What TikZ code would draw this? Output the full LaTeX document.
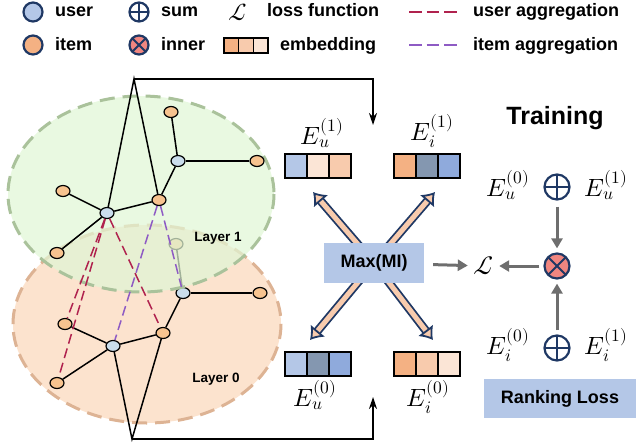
\documentclass[tikz,border=0pt]{standalone}
\usepackage{unicode-math}
\setmainfont{Liberation Sans}
\setmathfont{Latin Modern Math}
\usetikzlibrary{positioning,shapes.geometric,arrows.meta}

\definecolor{navy}{HTML}{1F3864}
\definecolor{legu}{HTML}{B4C7E7}
\definecolor{legi}{HTML}{F4B183}
\definecolor{ufill}{HTML}{CADDEC}
\definecolor{ifill}{HTML}{F7C38F}
\definecolor{salmon}{HTML}{F08680}
\definecolor{garrow}{HTML}{6E6E6E}
\definecolor{greenbg}{HTML}{E0F6D5}
\definecolor{greenln}{HTML}{AAC29B}
\definecolor{orangebg}{HTML}{FCE3CE}
\definecolor{orangeln}{HTML}{DDB394}
\definecolor{uagg}{HTML}{B0224E}
\definecolor{iagg}{HTML}{8E5BC4}
\definecolor{lblue}{HTML}{B4C7E7}
\definecolor{lpeach}{HTML}{FBE5D6}
\definecolor{peach}{HTML}{F8CBAD}
\definecolor{dorange}{HTML}{F4B183}
\definecolor{gblue}{HTML}{8497B0}
\definecolor{mblue}{HTML}{8FAADC}

\begin{document}
\begin{tikzpicture}[x=1pt, y=-1pt,
  user/.style={ellipse, draw, line width=1.2pt, fill=ufill, minimum width=14pt, minimum height=11pt, inner sep=0pt},
  item/.style={user, fill=ifill},
  legdot/.style={circle, draw=navy, line width=2.2pt, minimum size=19pt, inner sep=0pt},
  plus/.style={legdot, fill=white, path picture={\draw[navy, line width=2pt] (path picture bounding box.north) -- (path picture bounding box.south) (path picture bounding box.west) -- (path picture bounding box.east);}},
  times/.style={legdot, fill=salmon, path picture={\draw[navy, line width=2pt] (path picture bounding box.north west) -- (path picture bounding box.south east) (path picture bounding box.north east) -- (path picture bounding box.south west);}},
  legtext/.style={anchor=base west, inner sep=0pt, font=\fontsize{18}{20}\selectfont\bfseries},
  cell/.style={draw, line width=2pt, minimum width=22pt, minimum height=24pt, inner sep=0pt, outer sep=0pt},
  legcell/.style={cell, line width=1.6pt, minimum width=14.7pt, minimum height=15pt},
  emb/.style={font=\fontsize{25}{28}\selectfont, inner sep=0pt},
  box/.style={fill=lblue, inner sep=0pt, font=\fontsize{18}{20}\selectfont\bfseries},
  edge/.style={line width=1.5pt},
  feed/.style={line width=1.5pt, -{Stealth[length=12pt, width=8pt]}},
  agg/.style={line width=1.5pt, dash pattern=on 10pt off 5pt},
  gray/.style={draw=garrow, line width=3pt, -{Triangle[length=10pt, width=11pt]}},
  mi/.style={draw=navy, line width=1.8pt, double=peach, double distance=5pt, -{Latex[open, fill=peach, length=12pt, width=19pt]}}
]
\useasboundingbox (0,0) rectangle (636,444);

% legend
\node[legdot, fill=legu] (lu) at (33,12) {};
\node[legtext] at (55,17) {user};
\node[legdot, fill=legi] (li) at (33,45) {};
\node[legtext] at (55,51) {item};
\node[plus] (lsum) at (139,12) {};
\node[legtext] at (161,17) {sum};
\node[times] (linner) at (139,45) {};
\node[legtext] at (161,51) {inner};
\node[font=\fontsize{24}{26}\selectfont, inner sep=0pt] (lloss) at (238,12) {$\mathcal{L}$};
\node[legtext] at (267,17) {loss function};
\node[legcell, fill=dorange] (lc1) at (231.3,45.5) {};
\node[legcell, fill=peach, right=0pt of lc1] (lc2) {};
\node[legcell, fill=lpeach, right=0pt of lc2] (lc3) {};
\node[legtext] at (280,51) {embedding};
\coordinate (ua) at (409,12);
\coordinate (ub) at (458,12);
\draw[agg, draw=uagg, dash pattern=on 12.5pt off 5pt] (ua) -- (ub);
\node[legtext] at (473,17) {user aggregation};
\coordinate (ia) at (409,45);
\coordinate (ib) at (458,45);
\draw[agg, draw=iagg, dash pattern=on 12.5pt off 5pt] (ia) -- (ib);
\node[legtext] at (473,51) {item aggregation};

% layer 0
\draw[fill=orangebg, draw=orangeln, line width=3pt, dash pattern=on 15pt off 8pt] (147,324) ellipse [x radius=134, y radius=99];
\node[user] (u3) at (113,346) {};
\node[item] (i3a) at (65,324) {};
\node[item] (i3b) at (57,383) {};
\node[item] (i3c) at (163,333) {};
\node[user] (u4) at (183,293) {};
\node[item] (i4a) at (260,293) {};
\node[item] (i4b) at (176,244) {};
\draw[edge] (u3) -- (i3a);
\draw[edge] (u3) -- (i3b);
\draw[edge] (u3) -- (i3c);
\draw[edge] (i3c) -- (u4);
\draw[edge] (u4) -- (i4a);
\draw[edge] (u4) -- (i4b);
\coordinate (bot0) at (132,439);
\coordinate (in0) at (373,397);
\draw[edge] (u3) -- (bot0) -- (i3c);
\draw[feed] (bot0) -| (in0);
\node[font=\fontsize{13.5}{15}\selectfont\bfseries] (lay0) at (216,379) {Layer 0};

% layer 1
\draw[fill=greenbg, fill opacity=0.72, draw=greenln, line width=3pt, dash pattern=on 15pt off 8pt] (141,194) ellipse [x radius=133, y radius=98];
\node[user] (u1) at (107,213) {};
\node[item] (i1a) at (159,200) {};
\node[item] (i1b) at (63,191) {};
\node[item] (i1c) at (57,253) {};
\node[user] (u2) at (178,161) {};
\node[item] (i2a) at (171,112) {};
\node[item] (i2b) at (257,161) {};
\draw[edge] (u1) -- (i1a);
\draw[edge] (u1) -- (i1b);
\draw[edge] (u1) -- (i1c);
\draw[edge] (i1a) -- (u2);
\draw[edge] (u2) -- (i2a);
\draw[edge] (u2) -- (i2b);
\coordinate (top1) at (134,79);
\coordinate (in1) at (373,125);
\draw[edge] (u1) -- (top1) -- (i1a);
\draw[feed] (top1) -| (in1);
\node[font=\fontsize{13.5}{15}\selectfont\bfseries] (lay1) at (218,238) {Layer 1};

% aggregation
\draw[agg, draw=uagg] (u1) -- (i3a);
\draw[agg, draw=uagg] (u1) -- (i3b);
\draw[agg, draw=uagg] (u1) -- (i3c);
\draw[agg, draw=iagg] (i1a) -- (u3);
\draw[agg, draw=iagg] (i1a) -- (u4);

% embeddings
\node[cell, fill=lblue] (eu1a) at (296,166) {};
\node[cell, fill=lpeach, right=0pt of eu1a] (eu1b) {};
\node[cell, fill=peach, right=0pt of eu1b] (eu1c) {};
\node[cell, fill=dorange] (ei1a) at (405,166) {};
\node[cell, fill=gblue, right=0pt of ei1a] (ei1b) {};
\node[cell, fill=mblue, right=0pt of ei1b] (ei1c) {};
\node[cell, fill=lblue] (eu0a) at (296,363.5) {};
\node[cell, fill=gblue, right=0pt of eu0a] (eu0b) {};
\node[cell, fill=mblue, right=0pt of eu0b] (eu0c) {};
\node[cell, fill=dorange] (ei0a) at (405,363.5) {};
\node[cell, fill=peach, right=0pt of ei0a] (ei0b) {};
\node[cell, fill=lpeach, right=0pt of ei0b] (ei0c) {};
\node[emb, above=6pt of eu1b, xshift=4pt] (leu1) {$E_u^{(1)}$};
\node[emb, above=6pt of ei1b, xshift=5pt] (lei1) {$E_i^{(1)}$};
\node[emb, below=5pt of eu0b, xshift=-3pt] (leu0) {$E_u^{(0)}$};
\node[emb, below=5pt of ei0b, xshift=1pt] (lei0) {$E_i^{(0)}$};

% max MI
\coordinate (mic) at (374,263);
\coordinate (tu1) at (313,192);
\coordinate (ti1) at (435,192);
\coordinate (tu0) at (310,340);
\coordinate (ti0) at (433,340);
\draw[mi] (mic) -- (tu1);
\draw[mi] (mic) -- (ti1);
\draw[mi] (mic) -- (tu0);
\draw[mi] (mic) -- (ti0);
\node[box, minimum width=100pt, minimum height=40pt] (maxmi) at (mic) {Max(MI)};

% training
\node[font=\fontsize{25}{28}\selectfont\bfseries] (train) at (555,118) {Training};
\node[plus, minimum size=25pt] (sumu) at (557,187) {};
\node[emb] (ru0) at (508,185) {$E_u^{(0)}$};
\node[emb] (ru1) at (606,185) {$E_u^{(1)}$};
\node[times, minimum size=25pt] (inner) at (557,266) {};
\node[plus, minimum size=25pt] (sumi) at (557,348) {};
\node[emb] (ri0) at (508,345) {$E_i^{(0)}$};
\node[emb] (ri1) at (606,345) {$E_i^{(1)}$};
\node[font=\fontsize{26}{28}\selectfont, inner sep=0pt] (loss) at (484,266) {$\mathcal{L}$};
\draw[gray, shorten <=6pt, shorten >=4pt] (sumu) -- (inner);
\draw[gray, shorten <=4pt, shorten >=4pt] (sumi) -- (inner);
\draw[gray, shorten <=4pt, shorten >=5pt] (inner) -- (loss);
\draw[gray, shorten <=9pt, shorten >=6pt] (maxmi) -- (loss);
\node[box, minimum width=152pt, minimum height=39pt] (rank) at (560,398.5) {Ranking Loss};
\end{tikzpicture}
\end{document}
